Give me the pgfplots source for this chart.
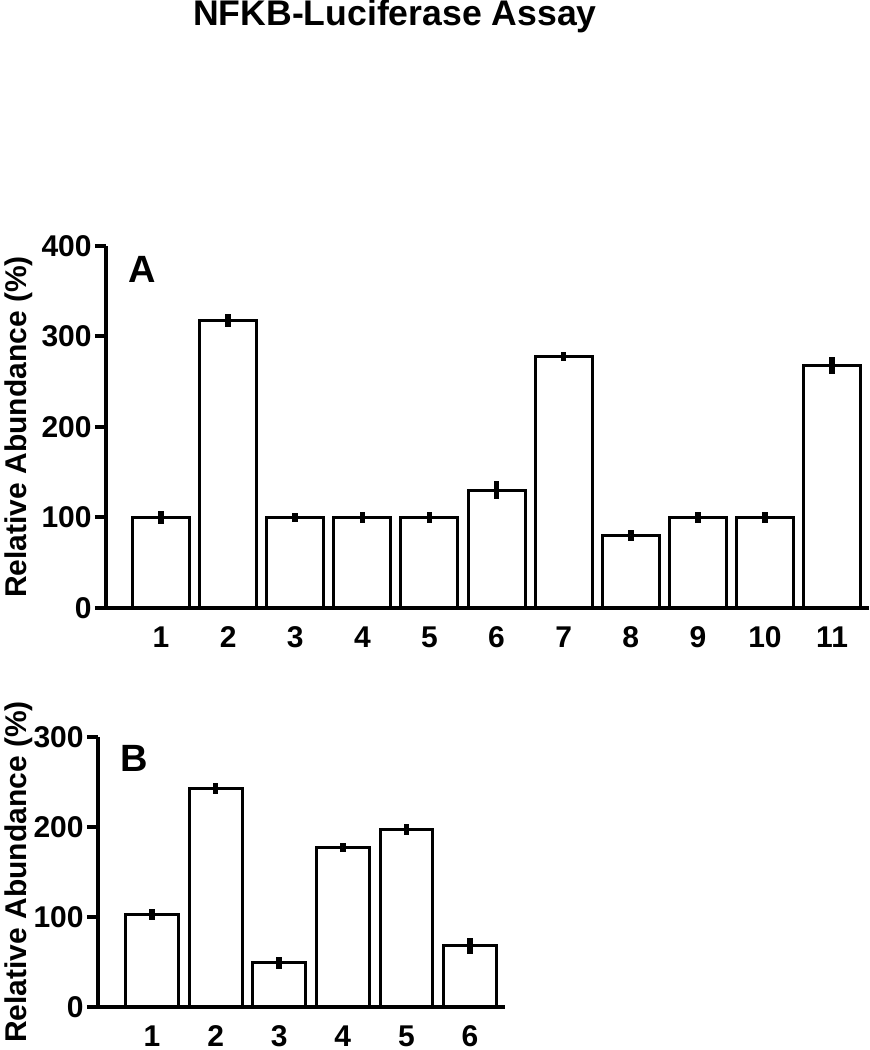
\documentclass[border=0pt]{standalone}
\usepackage{fontspec}
\setmainfont{Liberation Sans}
\usepackage{pgfplots}
\pgfplotsset{compat=1.18}

\pgfplotsset{
  panel/.style={
    scale only axis,
    axis x line=bottom, axis y line=left,
    axis line style={-, line width=2pt},
    ymin=0,
    xtick=data,
    xtick style={draw=none},
    tick align=outside,
    major tick length=5.5pt,
    ytick style={black, line width=2pt},
    /pgf/number format/assume math mode=true,
    tick label style={font=\bfseries\fontsize{15}{15}\selectfont},
    yticklabel style={inner sep=1.5pt},
    xticklabel style={anchor=north, inner sep=0pt, text height=10.7pt, text depth=0pt, yshift=-3.5pt},
    label style={font=\bfseries\fontsize{15}{15}\selectfont},
    ylabel={Relative Abundance (\%)},
    ybar, bar shift=0pt,
    clip=false,
  },
  bars/.style={draw=black, fill=white, line width=1.5pt,
    error bars/.cd, y dir=both, y explicit, error mark=none,
    error bar style={line width=2.8pt}},
}

\begin{document}
\begin{tikzpicture}
\path[use as bounding box] (0,0) rectangle (435pt,525pt);

\node[font=\bfseries\fontsize{17.8}{17.8}\selectfont] at (197.5pt,517pt) {NFKB-Luciferase Assay};

% panel A
\begin{axis}[panel, at={(53pt,221pt)}, anchor=south west,
  width=381.5pt, height=181pt,
  xmin=0.18, xmax=11.55, ymax=400, ytick={0,100,200,300,400},
  bar width=0.85,
  ylabel style={at={(axis description cs:-0.114,0.5)}, anchor=center}]
\addplot[bars] coordinates {
  (1,100) +- (0,7)
  (2,318) +- (0,7)
  (3,100) +- (0,5)
  (4,100) +- (0,6)
  (5,100) +- (0,6)
  (6,130) +- (0,10)
  (7,278) +- (0,5)
  (8,80)  +- (0,6)
  (9,100) +- (0,6.5)
  (10,100) +- (0,6.5)
  (11,268) +- (0,9)
};
\end{axis}
\node[font=\bfseries\fontsize{19}{19}\selectfont] at (71pt,390.5pt) {A};

% panel B
\begin{axis}[panel, at={(49pt,21.5pt)}, anchor=south west,
  width=203.5pt, height=135pt,
  xmin=0.15, xmax=6.55, ymax=300, ytick={0,100,200,300},
  bar width=0.83,
  ylabel style={at={(axis description cs:-0.195,0.5)}, anchor=center}]
\addplot[bars] coordinates {
  (1,103) +- (0,6)
  (2,243) +- (0,6)
  (3,49)  +- (0,7)
  (4,177) +- (0,5)
  (5,197) +- (0,6)
  (6,68)  +- (0,9)
};
\end{axis}
\node[font=\bfseries\fontsize{19}{19}\selectfont] at (67pt,146pt) {B};
\end{tikzpicture}
\end{document}
